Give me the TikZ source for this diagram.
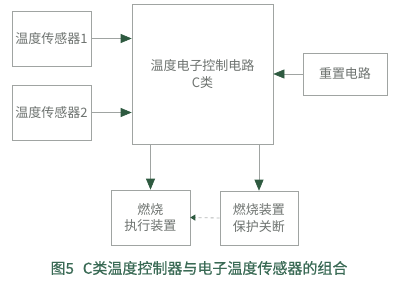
\documentclass[tikz,border=0pt]{standalone}
\usepackage{fontspec}
\newfontfamily\cjk{Noto Sans CJK SC}
\newfontfamily\cjkb[FakeBold=0.6]{Noto Sans CJK SC}
\usetikzlibrary{arrows.meta}
\definecolor{boxline}{HTML}{A0A4A2}
\definecolor{boxtext}{HTML}{6E7370}
\definecolor{arrowc}{HTML}{2E5A40}
\definecolor{capc}{HTML}{3A6A55}
\tikzset{
  blk/.style={draw=boxline, line width=0.6pt, fill=white, align=center, inner sep=0pt,
    text=boxtext, font=\cjk\fontsize{13}{16.5}\selectfont},
  conn/.style={draw=boxline, line width=0.6pt, -{Triangle[length=11pt,width=9pt,fill=arrowc,color=arrowc]}},
  dconn/.style={draw=boxline!80, line width=0.8pt, dash pattern=on 3pt off 3pt,
    -{Triangle[length=5pt,width=6pt,fill=arrowc,color=arrowc]}}
}
\begin{document}
\begin{tikzpicture}[x=1pt,y=-1pt]
\useasboundingbox (0,0) rectangle (400,287);
\node[blk, minimum width=79pt, minimum height=55pt] (s1) at (51.5,38.5) {温度传感器1};
\node[blk, minimum width=79pt, minimum height=55pt] (s2) at (51.5,112.5) {温度传感器2};
\node[blk, minimum width=141pt, minimum height=140pt] (main) at (202.5,74) {温度电子控制电路\\C类};
\node[blk, minimum width=84pt, minimum height=42pt] (rst) at (345,74) {重置电路};
\node[blk, minimum width=79pt, minimum height=55pt] (exec) at (150.5,217.5) {燃烧\\执行装置};
\node[blk, minimum width=78pt, minimum height=54pt] (prot) at (259,218) {燃烧装置\\保护关断};
\draw[conn] (s1.east) -- (s1.east -| main.west);
\draw[conn] (s2.east) -- (s2.east -| main.west);
\draw[conn] (rst.west) -- (main.east);
\draw[conn] (exec.north |- main.south) -- (exec.north);
\draw[conn] (prot.north |- main.south) -- (prot.north);
\draw[dconn] (prot.west) -- (exec.east);
\node[text=capc, font=\cjkb\fontsize{15}{18}\selectfont, inner sep=0pt] (cap) at (199,268) {图5\hspace{0.6em}C类温度控制器与电子温度传感器的组合};
\end{tikzpicture}
\end{document}
